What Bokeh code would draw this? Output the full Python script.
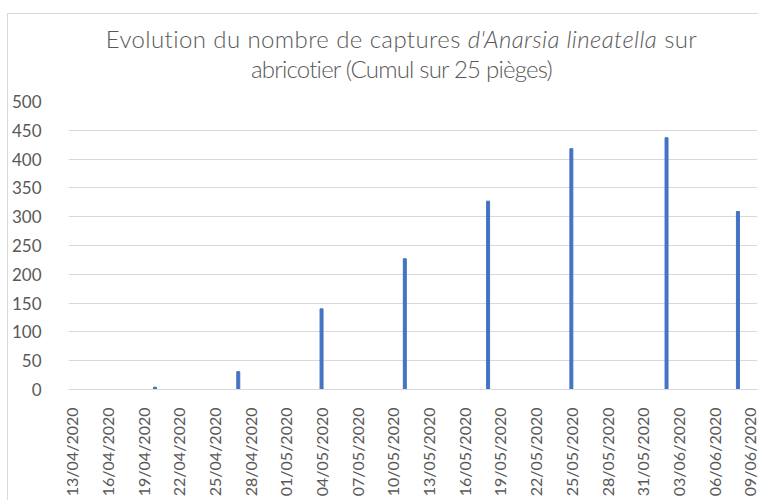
import math
from datetime import datetime, timedelta

from bokeh.plotting import figure
from bokeh.models import Range1d, FixedTicker, DatetimeTickFormatter, Div
from bokeh.layouts import column
from bokeh.embed import file_html
from bokeh.resources import INLINE

# ---- data ----
capture_dates = ["2020-04-20", "2020-04-27", "2020-05-04", "2020-05-11",
                 "2020-05-18", "2020-05-25", "2020-06-02", "2020-06-08"]
captures = [4, 31, 140, 227, 327, 418, 437, 309]

tick_dates = ["2020-04-13", "2020-04-16", "2020-04-19", "2020-04-22", "2020-04-25",
              "2020-04-28", "2020-05-01", "2020-05-04", "2020-05-07", "2020-05-10",
              "2020-05-13", "2020-05-16", "2020-05-19", "2020-05-22", "2020-05-25",
              "2020-05-28", "2020-05-31", "2020-06-03", "2020-06-06", "2020-06-09"]
y_ticks = [0, 50, 100, 150, 200, 250, 300, 350, 400, 450, 500]

title_part1 = "Evolution du nombre de captures "
title_part2 = "d'Anarsia lineatella"
title_part3 = " sur"
title_line2 = "abricotier (Cumul sur 25 pièges)"

# ---- helpers ----
def to_dt(s):
    return datetime.strptime(s, "%Y-%m-%d")

def to_ms(d):
    return (d - datetime(1970, 1, 1)).total_seconds() * 1000.0

x_vals = [to_dt(s) for s in capture_dates]
ticks_ms = [to_ms(to_dt(s)) for s in tick_dates]
x_start = to_dt(tick_dates[0]) - timedelta(hours=6.5)
x_end = to_dt(tick_dates[-1]) + timedelta(hours=15.5)

FONT = "Lato"
GREY = "#595959"
GRID = "#d9d9d9"
BLUE = "#4472C4"

title_html = (f'<span style="letter-spacing:0.4px">{title_part1}<i>{title_part2}</i>'
              f'{title_part3}</span><br>'
              f'<span style="letter-spacing:-0.8px">{title_line2}</span>')
title_div = Div(text=title_html, width=750, height=66,
                styles={"font-family": FONT, "font-size": "24px", "font-weight": "300",
                        "color": GREY,
                        "text-align": "center", "line-height": "30px",
                        "white-space": "nowrap", "padding-top": "5px",
                        "padding-left": "27px", "box-sizing": "border-box"})

p = figure(width=750, height=410, x_axis_type="datetime",
           output_backend="svg", toolbar_location=None,
           x_range=Range1d(x_start, x_end), y_range=Range1d(0, 500),
           min_border_left=59, min_border_right=1,
           min_border_top=11, min_border_bottom=111)

p.outline_line_color = None
p.background_fill_color = "white"
p.border_fill_color = "white"

p.vbar(x=x_vals, top=captures, width=timedelta(hours=6).total_seconds() * 1000,
       bottom=0, color=BLUE)

# x axis
p.xaxis.ticker = FixedTicker(ticks=ticks_ms)
fmt = "%d/%m/%Y"
p.xaxis.formatter = DatetimeTickFormatter(days=fmt, months=fmt, hours=fmt,
                                          years=fmt, hourmin=fmt, minutes=fmt)
p.xaxis.major_label_orientation = math.pi / 2
p.xaxis.axis_line_color = GRID
p.xaxis.major_tick_line_color = None
p.xaxis.minor_tick_line_color = None
p.xaxis.major_label_text_font = FONT
p.xaxis.major_label_text_font_size = "16px"
p.xaxis.major_label_text_color = GREY
p.xaxis.major_label_standoff = 12

# y axis
p.yaxis.ticker = FixedTicker(ticks=y_ticks)
p.yaxis.axis_line_color = None
p.yaxis.major_tick_line_color = None
p.yaxis.minor_tick_line_color = None
p.yaxis.major_label_text_font = FONT
p.yaxis.major_label_text_font_size = "17px"
p.yaxis.major_label_text_color = GREY
p.yaxis.major_label_standoff = 21

# grid
p.xgrid.grid_line_color = None
p.ygrid.grid_line_color = GRID
p.ygrid.grid_line_width = 1

layout = column(title_div, p, spacing=0,
                styles={"border-left": f"1px solid {GRID}",
                        "border-top": f"1px solid {GRID}",
                        "margin-left": "7px", "margin-top": "13px"})
open("out.html", "w").write(file_html(layout, INLINE))
